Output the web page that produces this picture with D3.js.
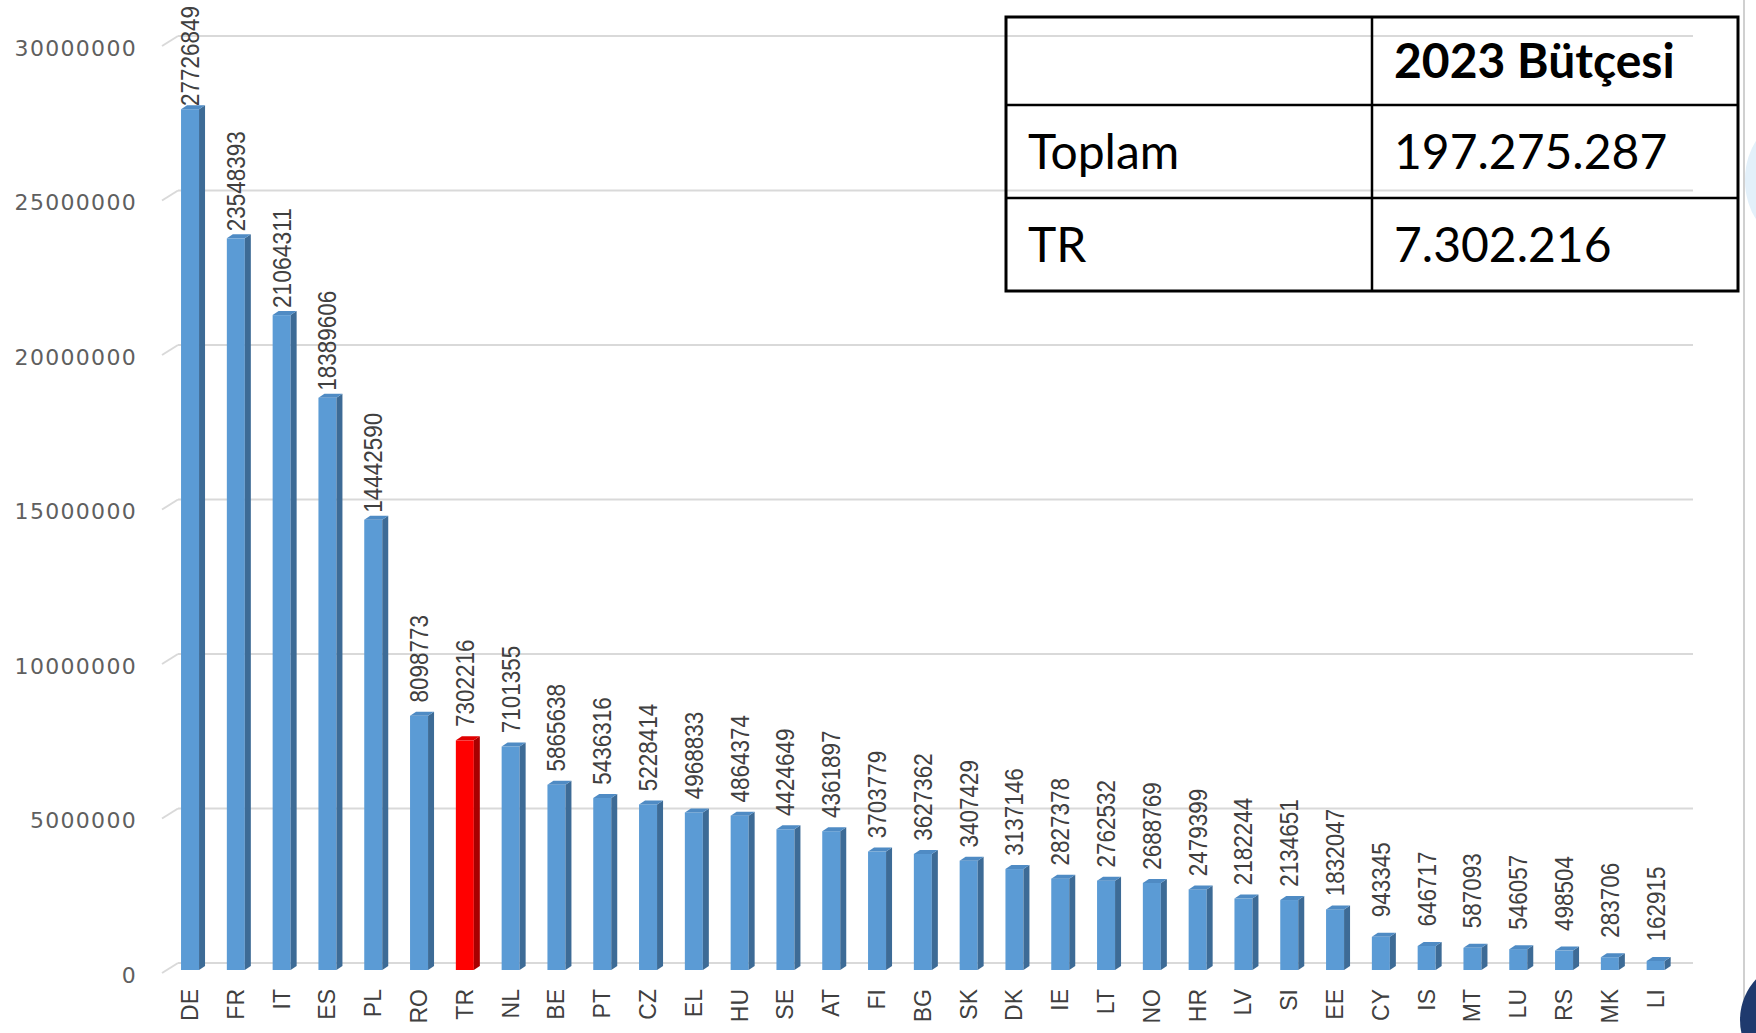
<!DOCTYPE html>
<html>
<head>
<meta charset="utf-8">
<script src="https://cdn.jsdelivr.net/npm/d3@7"></script>
<style>
  body { margin: 0; background: #fff; }
  svg { display: block; }
</style>
</head>
<body>
<script>
// data
var countries = ["DE","FR","IT","ES","PL","RO","TR","NL","BE","PT","CZ","EL","HU","SE","AT","FI","BG","SK","DK","IE","LT","NO","HR","LV","SI","EE","CY","IS","MT","LU","RS","MK","LI"];
var budget = [27726849,23548393,21064311,18389606,14442590,8098773,7302216,7101355,5865638,5436316,5228414,4968833,4864374,4424649,4361897,3703779,3627362,3407429,3137146,2827378,2762532,2688769,2479399,2182244,2134651,1832047,943345,646717,587093,546057,498504,283706,162915];
var highlight = "TR";
var yTicks = [0,5000000,10000000,15000000,20000000,25000000,30000000];

var tableHead = ["", "2023 Bütçesi"];
var tableRows = [["Toplam", "197.275.287"], ["TR", "7.302.216"]];

var W = 1756, H = 1033;
var svg = d3.select("body").append("svg").attr("width", W).attr("height", H);

var dataset = countries.map(function(c, i){ return {name: c, val: budget[i]}; });

var y = d3.scaleLinear().domain([0, 30000000]).range([963, 36]);
var x = d3.scaleBand().domain(countries).range([167.3, 1678.4]).paddingInner(0.607).paddingOuter(0.3);

var dx = 6, dy = 4;   // 3d depth of the bars

// gridlines on the back wall + little floor diagonals
var grid = svg.append("g");
yTicks.forEach(function(t){
  grid.append("line").attr("x1", 178).attr("x2", 1693).attr("y1", y(t)).attr("y2", y(t))
    .attr("stroke", "#d9d9d9").attr("stroke-width", 2);
  grid.append("line").attr("x1", 162).attr("x2", 178).attr("y1", y(t) + 10).attr("y2", y(t))
    .attr("stroke", "#d9d9d9").attr("stroke-width", 2);
});

// y axis labels
var yAxis = d3.axisLeft(y).tickValues(yTicks).tickSize(0).tickPadding(0).tickFormat(d3.format("d"));
var ax = svg.append("g").attr("transform", "translate(137,12)").call(yAxis);
ax.select(".domain").remove();
ax.selectAll("text").attr("font-family", "DejaVu Sans, Verdana, sans-serif")
  .attr("font-size", 22).attr("letter-spacing", 1.3).attr("fill", "#5f5f5f");

// bars
var bars = svg.selectAll("g.bar").data(dataset).enter().append("g").attr("class", "bar");
function topY(d){ return y(d.val) + 3; }
var bottomY = y(0) + 7;
var bw = x.bandwidth();

bars.append("rect")
  .attr("x", d => x(d.name))
  .attr("y", d => topY(d))
  .attr("width", bw)
  .attr("height", d => bottomY - topY(d))
  .attr("fill", d => d.name === highlight ? "#ff0000" : "#5b9bd5");

bars.append("path")
  .attr("d", function(d){
    var x0 = x(d.name) + bw, t = topY(d);
    return "M" + x0 + "," + t + "L" + (x0 + dx) + "," + (t - dy) + "L" + (x0 + dx) + "," + (bottomY - dy) + "L" + x0 + "," + bottomY + "Z";
  })
  .attr("fill", d => d.name === highlight ? "#a80000" : "#3d6b96");

bars.append("path")
  .attr("d", function(d){
    var x0 = x(d.name), t = topY(d);
    return "M" + x0 + "," + t + "L" + (x0 + dx) + "," + (t - dy) + "L" + (x0 + bw + dx) + "," + (t - dy) + "L" + (x0 + bw) + "," + t + "Z";
  })
  .attr("fill", d => d.name === highlight ? "#e00000" : "#4f8bc4");

// value labels
bars.append("text")
  .attr("transform", d => "translate(" + (x(d.name) + bw / 2 + 9) + "," + Math.max(topY(d) - 57, 56) + ") rotate(-90)")
  .attr("text-anchor", "middle")
  .attr("font-family", "Liberation Sans Narrow, Arial Narrow, Liberation Sans, sans-serif")
  .attr("font-size", 25)
  .attr("fill", "#404040")
  .attr("textLength", d => String(d.val).length * 12.5)
  .attr("lengthAdjust", "spacingAndGlyphs")
  .text(d => d.val);

// category labels
bars.append("text")
  .attr("transform", d => "translate(" + (x(d.name) + bw / 2 + 8) + ",989) rotate(-90)")
  .attr("text-anchor", "end")
  .attr("font-family", "Liberation Sans Narrow, Arial Narrow, Liberation Sans, sans-serif")
  .attr("font-size", 23)
  .attr("fill", "#404040")
  .text(d => d.name);

// table in the corner
var colX = [1006, 1372, 1738], rowY = [17, 105, 198, 291];
var tbl = svg.append("g");
tbl.append("rect").attr("x", colX[0]).attr("y", rowY[0]).attr("width", colX[2] - colX[0]).attr("height", rowY[3] - rowY[0])
  .attr("fill", "none").attr("stroke", "#000").attr("stroke-width", 3);
tbl.append("line").attr("x1", colX[1]).attr("x2", colX[1]).attr("y1", rowY[0]).attr("y2", rowY[3]).attr("stroke", "#000").attr("stroke-width", 2.5);
[rowY[1], rowY[2]].forEach(function(r){
  tbl.append("line").attr("x1", colX[0]).attr("x2", colX[2]).attr("y1", r).attr("y2", r).attr("stroke", "#000").attr("stroke-width", 2.5);
});
var allRows = [tableHead].concat(tableRows);
allRows.forEach(function(row, ri){
  var cy = (rowY[ri] + rowY[ri + 1]) / 2 + 17;
  row.forEach(function(cell, ci){
    tbl.append("text").attr("x", colX[ci] + 22).attr("y", cy)
      .attr("font-family", "Lato, Open Sans, sans-serif")
      .attr("font-size", 48)
      .attr("font-weight", ri === 0 ? "bold" : "normal")
      .attr("fill", "#000")
      .text(cell);
  });
});

// slide edge decorations
svg.append("line").attr("x1", 1744).attr("x2", 1744).attr("y1", 0).attr("y2", H).attr("stroke", "#d0d0d0").attr("stroke-width", 2);
svg.append("ellipse").attr("cx", 1790).attr("cy", 180).attr("rx", 45).attr("ry", 60).attr("fill", "#e3f0fa");
svg.append("circle").attr("cx", 1800).attr("cy", 1020).attr("r", 60).attr("fill", "#1f3a6e");
</script>
</body>
</html>
